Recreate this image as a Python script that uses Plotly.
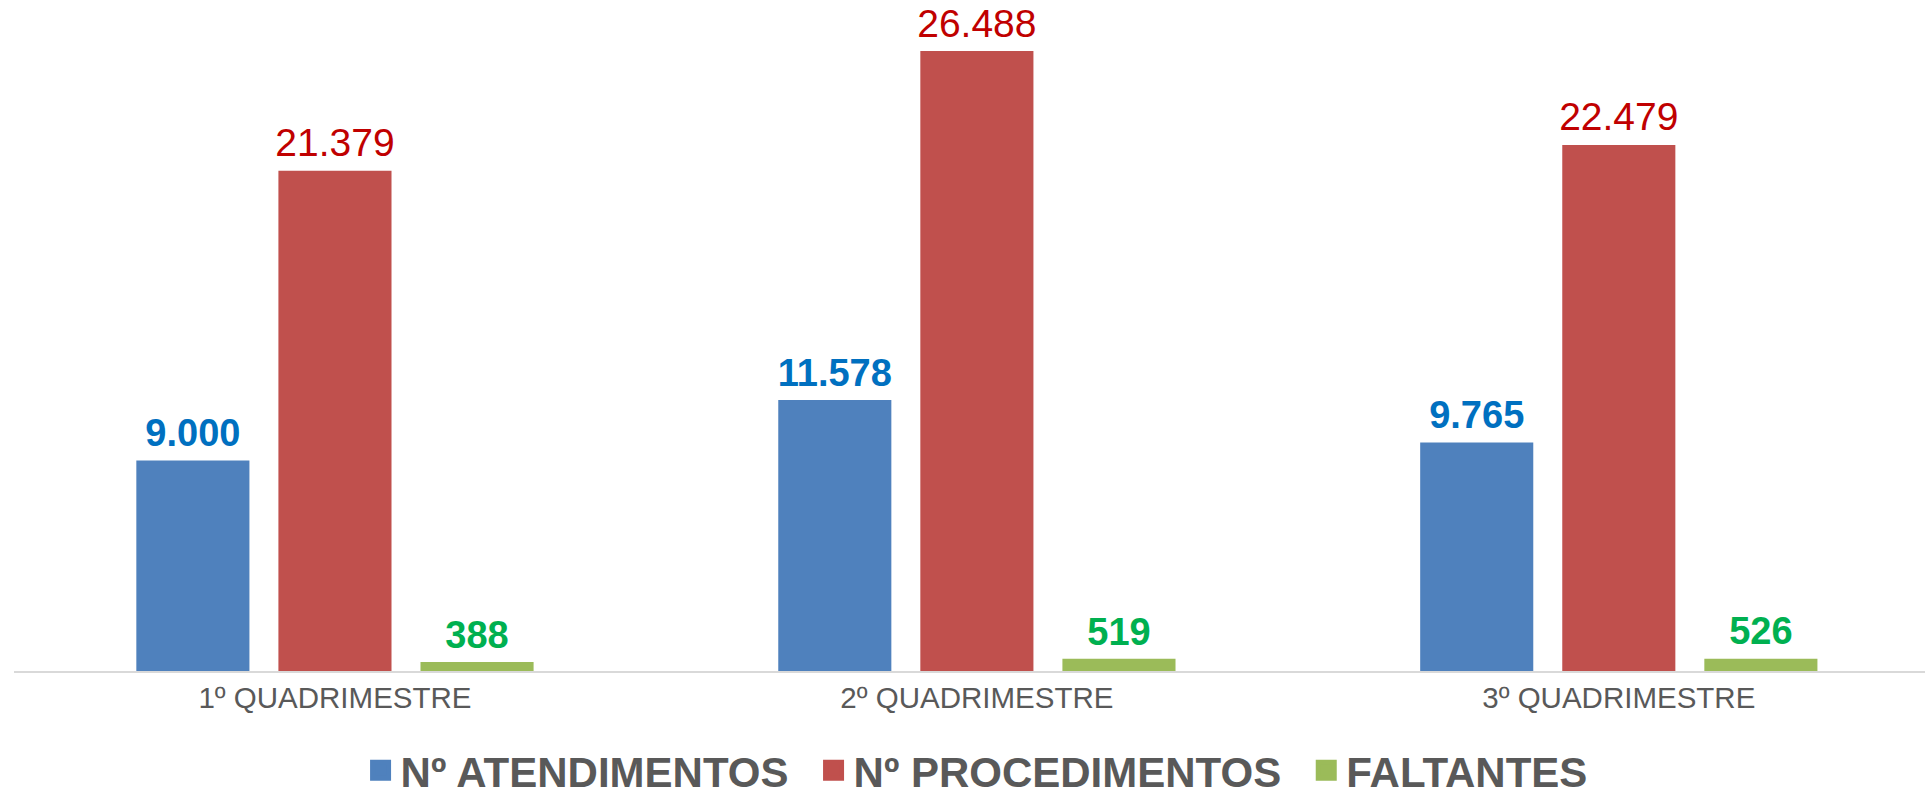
import plotly.graph_objects as go

categories = ["1º QUADRIMESTRE", "2º QUADRIMESTRE", "3º QUADRIMESTRE"]
atendimentos = [9000, 11578, 9765]
procedimentos = [21379, 26488, 22479]
faltantes = [388, 519, 526]

series_names = ["Nº ATENDIMENTOS", "Nº PROCEDIMENTOS", "FALTANTES"]
legend_pad = ["\u00a0\u2009", "\u00a0\u2009", ""]
bar_colors = ["#4F81BD", "#C0504D", "#9BBB59"]
label_colors = ["#0070C0", "#C00000", "#00B050"]
label_weights = ["bold", "normal", "bold"]
label_sizes = [38, 39, 38]

FONT = "Liberation Sans, Arial, sans-serif"
BARGAP = 0.336


def fmt(v):
    return f"{v:,}".replace(",", ".")


fig = go.Figure()
all_vals = [atendimentos, procedimentos, faltantes]
for name, vals, bc in zip(series_names, all_vals, bar_colors):
    fig.add_trace(go.Bar(
        x=categories, y=vals, name=name,
        marker=dict(color=bc, line=dict(width=0)),
        showlegend=False, hoverinfo="skip",
    ))
# value labels, grouped like the bars
for name, vals, lc, lw, ls in zip(series_names, all_vals, label_colors, label_weights, label_sizes):
    fig.add_trace(go.Scatter(
        x=categories, y=vals, mode="markers+text",
        marker=dict(size=6, opacity=0),
        text=[fmt(v) for v in vals], textposition="top center",
        textfont=dict(family=FONT, size=ls, color=lc, weight=lw),
        cliponaxis=False, showlegend=False, hoverinfo="skip",
    ))
# legend entries with larger square swatches (on a hidden overlay axis)
for name, pad, bc in zip(series_names, legend_pad, bar_colors):
    fig.add_trace(go.Scatter(
        x=[None], y=[None], xaxis="x2", yaxis="y2", mode="markers",
        name=name + pad,
        marker=dict(symbol="square", size=16, color=bc, line=dict(width=5, color=bc)),
        showlegend=True, hoverinfo="skip",
    ))

fig.update_layout(
    width=1925, height=798,
    margin=dict(l=14, r=0, t=0, b=126.5, autoexpand=False),
    paper_bgcolor="white", plot_bgcolor="white",
    barmode="group", bargap=BARGAP, bargroupgap=0.204,
    scattermode="group", scattergap=BARGAP,
    font=dict(family=FONT, color="#595959"),
    xaxis=dict(
        type="category", range=[-0.5, 2.477],
        showline=True, linecolor="#D9D9D9", linewidth=2,
        showgrid=False, zeroline=False, ticks="",
        tickfont=dict(size=29.5, color="#595959"),
    ),
    yaxis=dict(
        range=[0, 28672], visible=False, showgrid=False, zeroline=False,
    ),
    xaxis2=dict(overlaying="x", anchor="y2", visible=False, range=[0, 1]),
    yaxis2=dict(overlaying="y", anchor="x2", visible=False, range=[0, 1]),
    legend=dict(
        orientation="h", x=0.5037, xanchor="center", y=-0.1482, yanchor="middle",
        font=dict(size=42, color="#595959", weight="bold"),
        itemsizing="trace",
    ),
)

fig.write_html("out.html", config={"displayModeBar": False},
               post_script="document.body.style.margin='0';")
